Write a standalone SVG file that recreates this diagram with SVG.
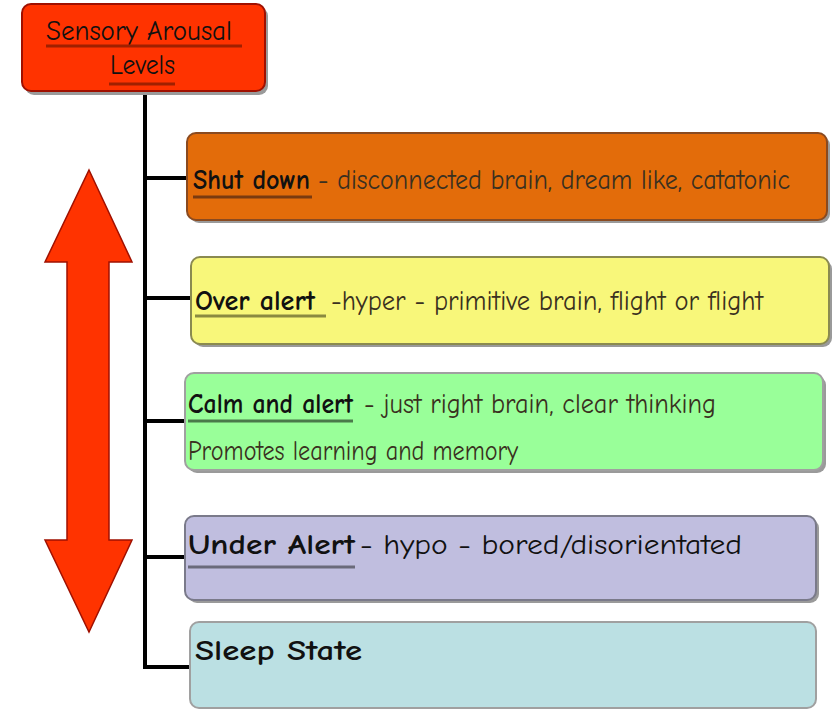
<svg xmlns="http://www.w3.org/2000/svg" width="838" height="709" viewBox="0 0 838 709">
<style>
.t{font-family:"Comic Neue","DejaVu Sans Condensed","Liberation Sans",sans-serif;font-size:28px;}
.h{fill:#111;font-weight:bold;}
.r{fill:#3a3020;}
.sh{fill:#9a9a9a;}
.ul{stroke-width:3;}
</style>
<rect width="838" height="709" fill="#fff"/>
<g id="connectors" stroke="#000" stroke-width="4" fill="none">
<polyline points="145,92 145,667 192,667"/>
<line x1="145" y1="178" x2="188" y2="178"/>
<line x1="145" y1="298" x2="192" y2="298"/>
<line x1="145" y1="421" x2="186" y2="421"/>
<line x1="145" y1="557" x2="186" y2="557"/>
</g>
<g id="arrow">
<polygon points="89,170 132,262 109,262 109,540 132,540 89,632 45,540 67,540 67,262 45,262" fill="#ff3300" stroke="#a01000" stroke-width="1.5"/>
</g>
<g id="title">
<rect x="25" y="7" width="243" height="88" rx="9" class="sh"/>
<rect x="22" y="4" width="243" height="87" rx="9" fill="#ff3300" stroke="#a01000" stroke-width="2"/>
<text x="46" y="40" class="t" fill="#111" textLength="186" lengthAdjust="spacingAndGlyphs">Sensory Arousal</text>
<line x1="46" y1="46" x2="242" y2="46" stroke="#a02000" class="ul"/>
<text x="110" y="74" class="t" fill="#111" textLength="65" lengthAdjust="spacingAndGlyphs">Levels</text>
<line x1="109" y1="84" x2="175" y2="84" stroke="#a02000" class="ul"/>
</g>
<g id="shutdown">
<rect x="190" y="136" width="640" height="87" rx="9" class="sh"/>
<rect x="187" y="133" width="640" height="87" rx="9" fill="#e36c0a" stroke="#8a4a20" stroke-width="2"/>
<text x="193" y="189" class="t h" textLength="117" lengthAdjust="spacingAndGlyphs">Shut down</text>
<line x1="193" y1="197" x2="312" y2="197" stroke="#7a3a10" class="ul"/>
<text x="318" y="189" class="t r" textLength="472" lengthAdjust="spacingAndGlyphs">- disconnected brain, dream like, catatonic</text>
</g>
<g id="overalert">
<rect x="194" y="260" width="638" height="87" rx="9" class="sh"/>
<rect x="191" y="257" width="638" height="87" rx="9" fill="#f8f77a" stroke="#8a8a50" stroke-width="2"/>
<text x="195" y="310" class="t h" textLength="120" lengthAdjust="spacingAndGlyphs">Over alert</text>
<line x1="195" y1="316" x2="326" y2="316" stroke="#8a8a40" class="ul"/>
<text x="331" y="310" class="t r" textLength="432" lengthAdjust="spacingAndGlyphs">-hyper - primitive brain, flight or flight</text>
</g>
<g id="calmalert">
<rect x="188" y="376" width="638" height="97" rx="9" class="sh"/>
<rect x="185" y="373" width="638" height="97" rx="9" fill="#99ff99" stroke="#a0a0a0" stroke-width="2"/>
<text x="188" y="413" class="t h" textLength="165" lengthAdjust="spacingAndGlyphs">Calm and alert</text>
<line x1="188" y1="421" x2="353" y2="421" stroke="#4a7a4a" class="ul"/>
<text x="364" y="413" class="t r" textLength="352" lengthAdjust="spacingAndGlyphs">- just right brain, clear thinking</text>
<text x="188" y="460" class="t r" textLength="330" lengthAdjust="spacingAndGlyphs">Promotes  learning and memory</text>
</g>
<g id="underalert">
<rect x="188" y="519" width="631" height="84" rx="9" class="sh"/>
<rect x="185" y="516" width="631" height="84" rx="9" fill="#c0bedf" stroke="#7a7a8a" stroke-width="2"/>
<text x="188" y="554" class="t h" textLength="167" lengthAdjust="spacingAndGlyphs">Under Alert</text>
<line x1="188" y1="567" x2="355" y2="567" stroke="#6a6a7a" class="ul"/>
<text x="360" y="554" class="t" fill="#111" textLength="382" lengthAdjust="spacingAndGlyphs">- hypo - bored/disorientated</text>
</g>
<g id="sleep">
<rect x="190" y="622" width="626" height="86" rx="9" fill="#bbe0e3" stroke="#a0a0a0" stroke-width="2"/>
<text x="195" y="660" class="t h" textLength="167" lengthAdjust="spacingAndGlyphs">Sleep State</text>
</g>
</svg>
